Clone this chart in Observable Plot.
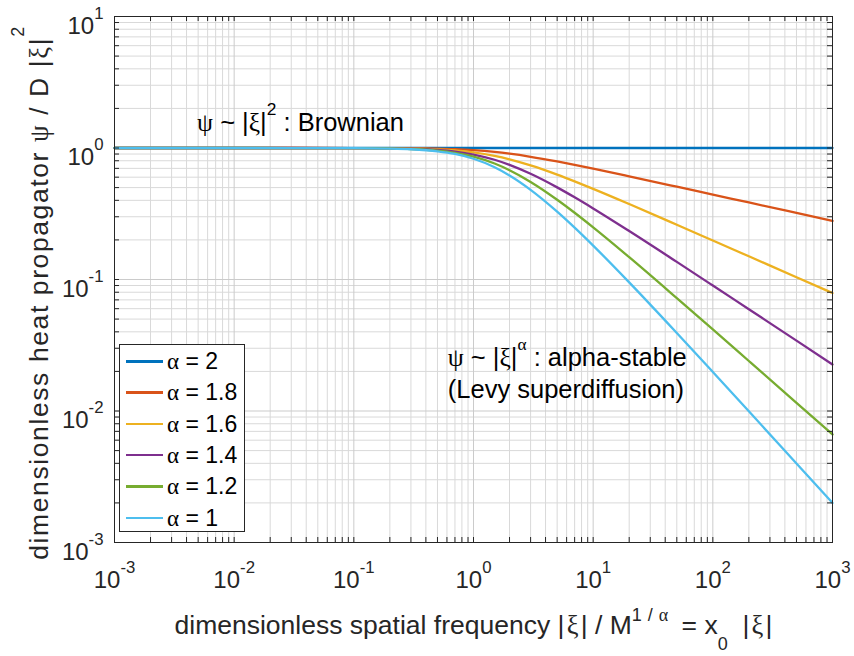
<!DOCTYPE html>
<html><head><meta charset="utf-8">
<script src="https://cdn.jsdelivr.net/npm/d3@7"></script>
<script src="https://cdn.jsdelivr.net/npm/@observablehq/plot@0.6"></script>
<style>
html,body{margin:0;padding:0;background:#fff;overflow:hidden;}
#wrap{position:relative;width:854px;height:656px;font-family:"Liberation Sans",Arial,Helvetica,sans-serif;}
#wrap svg{display:block;}
.legend{position:absolute;left:119px;top:344px;width:126px;height:188px;box-sizing:border-box;border:1px solid #262626;background:#fff;}
.row{position:absolute;left:0;height:30px;width:124px;}
.sw{position:absolute;left:6px;top:14px;width:37px;height:2.5px;}
.lt{position:absolute;left:47px;top:0;line-height:30px;font-size:23px;color:#000;white-space:pre;}
.g{font-family:"Liberation Serif","DejaVu Serif",serif;}
</style></head>
<body><div id="wrap"></div>
<script>
// ---- data ----
const xi = [0.001, 0.01, 0.1, 0.2, 0.3, 0.5, 0.7, 1, 1.5, 2, 3, 5, 7, 10, 20, 50, 100, 200, 500, 1000];
const alphas = [2, 1.8, 1.6, 1.4, 1.2, 1];
const alphaLabels = ["2", "1.8", "1.6", "1.4", "1.2", "1"];
const colors = ["#0072BD", "#D95319", "#EDB120", "#7E2F8E", "#77AC30", "#4DBEEE"];
const psiA20 = [1, 1, 1, 1, 1, 1, 1, 1, 1, 1, 1, 1, 1, 1, 1, 1, 1, 1, 1, 1];
const psiA18 = [1, 1, 0.9995, 0.9980, 0.9956, 0.9885, 0.9790, 0.9623, 0.9327, 0.9046, 0.8572, 0.7898, 0.7441, 0.6963, 0.6089, 0.5079, 0.4422, 0.3851, 0.3206, 0.2791];
const psiA16 = [1, 1, 0.9990, 0.9961, 0.9913, 0.9772, 0.9586, 0.9264, 0.8708, 0.8200, 0.7374, 0.6276, 0.5578, 0.4891, 0.3748, 0.2610, 0.1980, 0.1501, 0.1041, 0.0789];
const psiA14 = [1, 1, 0.9985, 0.9941, 0.9870, 0.9661, 0.9387, 0.8922, 0.8140, 0.7447, 0.6368, 0.5019, 0.4216, 0.3471, 0.2336, 0.1361, 0.0900, 0.0594, 0.0343, 0.0226];
const psiA12 = [1, 1, 0.9980, 0.9922, 0.9827, 0.9551, 0.9194, 0.8595, 0.7617, 0.6777, 0.5521, 0.4042, 0.3217, 0.2491, 0.1478, 0.0722, 0.0417, 0.0240, 0.01155, 0.00663];
const psiA10 = [1, 1, 0.9975, 0.9902, 0.9785, 0.9443, 0.9006, 0.8284, 0.7136, 0.6180, 0.4805, 0.3279, 0.2478, 0.1810, 0.0951, 0.0392, 0.0198, 0.00995, 0.00399, 0.00200];
const xTickExps = [-3, -2, -1, 0, 1, 2, 3];
const yTickExps = [-3, -2, -1, 0, 1];
const xLabel = "dimensionless spatial frequency |\u200Aξ\u200A| / M^{1/α} = x_{0}  |\u200Aξ\u200A|";
const yLabel = "dimensionless heat propagator ψ / D |ξ|^{2}";
const notes = [
  {x: 0.0049, y: 1.35, t: "ψ ~ |ξ|^{2} : Brownian"},
  {x: 0.61, y: 0.0219, t: "ψ ~ |ξ|^{α} : alpha-stable"},
  {x: 0.61, y: 0.0125, t: "(Levy superdiffusion)"}
];

const series = [psiA20, psiA18, psiA16, psiA14, psiA12, psiA10];
const rows = alphas.flatMap((a, i) => xi.map((x, j) => ({xi: x, psi: series[i][j], alpha: a})));

const xMajor = xTickExps.map(e => 10 ** e);
const yMajor = yTickExps.map(e => 10 ** e);
const xMinor = [], yMinor = [];
for (let e = -3; e < 3; e++) for (let m = 2; m <= 9; m++) xMinor.push(m * 10 ** e);
for (let e = -3; e < 1; e++) for (let m = 2; m <= 9; m++) yMinor.push(m * 10 ** e);
const xAll = xMajor.concat(xMinor), yAll = yMajor.concat(yMinor);

const W = 854, H = 656, ML = 114, MR = 22, MT = 16, MB = 114;
const FW = W - ML - MR, FH = H - MT - MB;
const AX = "#262626";

const chart = Plot.plot({
  width: W, height: H,
  marginLeft: ML, marginRight: MR, marginTop: MT, marginBottom: MB,
  x: {type: "log", domain: [1e-3, 1e3], axis: null},
  y: {type: "log", domain: [1e-3, 1e1], axis: null},
  color: {type: "ordinal", domain: alphas, range: colors},
  style: {fontFamily: '"Liberation Sans", Arial, Helvetica, sans-serif', background: "white"},
  marks: [
    Plot.ruleX(xMinor, {stroke: "#d9d9d9", strokeWidth: 1}),
    Plot.ruleY(yMinor, {stroke: "#d9d9d9", strokeWidth: 1}),
    Plot.ruleX(xMajor, {stroke: "#cbcbcb", strokeWidth: 1}),
    Plot.ruleY(yMajor, {stroke: "#cbcbcb", strokeWidth: 1}),
    Plot.line(rows, {x: "xi", y: "psi", z: "alpha", stroke: "alpha", strokeWidth: 2.3, curve: "monotone-x"}),
    Plot.tickX(xAll, {x: d => d, insetTop: FH - 5, stroke: AX}),
    Plot.tickX(xAll, {x: d => d, insetBottom: FH - 5, stroke: AX}),
    Plot.tickY(yAll, {y: d => d, insetRight: FW - 5, stroke: AX}),
    Plot.tickY(yAll, {y: d => d, insetLeft: FW - 5, stroke: AX}),
    Plot.frame({stroke: AX, strokeWidth: 1}),
    Plot.text(xTickExps, {x: e => 10 ** e, text: e => `10^{${e}}`, frameAnchor: "bottom", textAnchor: "middle", lineAnchor: "bottom", dy: 45, fontSize: 24, fill: AX, ariaDescription: "xtick"}),
    Plot.text(yTickExps, {y: e => 10 ** e, text: e => `10^{${e}}`, frameAnchor: "left", textAnchor: "end", lineAnchor: "bottom", dx: -11, dy: 17, fontSize: 24, fill: AX, ariaDescription: "ytick"}),
    Plot.text(notes, {x: "x", y: "y", text: "t", textAnchor: "start", lineAnchor: "bottom", fontSize: 25.5, fill: "#000", ariaDescription: "note"}),
    Plot.text([xLabel], {text: d => d, frameAnchor: "bottom", textAnchor: "middle", lineAnchor: "bottom", dy: 91, fontSize: 26.5, fill: AX, ariaDescription: "xlabel"}),
    Plot.text([yLabel], {text: d => d, frameAnchor: "left", textAnchor: "middle", rotate: -90, lineAnchor: "bottom", dx: -67, dy: 13, fontSize: 26.5, fill: AX, ariaDescription: "ylabel"})
  ]
});

const wrap = document.getElementById("wrap");
wrap.appendChild(chart);

// rich text: ^{sup}, _{sub}, Greek letters in serif
const SVGNS = "http://www.w3.org/2000/svg";
const SERIF = '"Liberation Serif", "DejaVu Serif", serif';
function richify(el, {sup, sub, scale, spacing = 0, supSpacing = 0}) {
  const s = el.textContent;
  const base = parseFloat(getComputedStyle(el).fontSize) || 20;
  while (el.firstChild) el.removeChild(el.firstChild);
  el.style.whiteSpace = "pre";
  if (spacing) el.style.letterSpacing = spacing + "px";
  const parts = s.split(/(\^\{[^}]*\}|_\{[^}]*\})/).filter(p => p !== "");
  let cur = 0;
  for (const p of parts) {
    let level = 0, txt = p, size = base, isSup = false;
    if (p.startsWith("^{")) { level = -sup * base; txt = p.slice(2, -1); size = base * scale; isSup = true; }
    else if (p.startsWith("_{")) { level = sub * base; txt = p.slice(2, -1); size = base * scale; }
    const runs = txt.match(/[αψξ]+|[^αψξ]+/g) || [];
    let first = true;
    for (const r of runs) {
      const t = document.createElementNS(SVGNS, "tspan");
      t.textContent = r;
      t.setAttribute("font-size", size);
      if (isSup && supSpacing) t.style.letterSpacing = supSpacing + "px";
      if (/[αψξ]/.test(r)) t.setAttribute("font-family", SERIF);
      if (first && level !== cur) { t.setAttribute("dy", level - cur); cur = level; }
      first = false;
      el.appendChild(t);
    }
  }
}
const cfg = {
  xtick: {sup: 0.62, sub: 0.8, scale: 0.7},
  ytick: {sup: 0.62, sub: 0.8, scale: 0.7},
  note: {sup: 0.62, sub: 0.8, scale: 0.68},
  xlabel: {sup: 0.48, sub: 0.62, scale: 0.68, supSpacing: 6},
  ylabel: {sup: 0.9, sub: 0.8, scale: 0.68, spacing: 1.6}
};
for (const [k, v] of Object.entries(cfg)) {
  chart.querySelectorAll(`g[aria-description="${k}"] text`).forEach(el => richify(el, v));
}

// legend (MATLAB-style box inside the axes)
const leg = document.createElement("div");
leg.className = "legend";
alphaLabels.forEach((lab, i) => {
  const row = document.createElement("div");
  row.className = "row";
  row.style.top = (1 + i * 31.3) + "px";
  const sw = document.createElement("div");
  sw.className = "sw";
  sw.style.background = colors[i];
  const lt = document.createElement("div");
  lt.className = "lt";
  lt.innerHTML = '<span class="g">α</span> = ' + lab;
  row.appendChild(sw); row.appendChild(lt);
  leg.appendChild(row);
});
wrap.appendChild(leg);
</script>
</body></html>
